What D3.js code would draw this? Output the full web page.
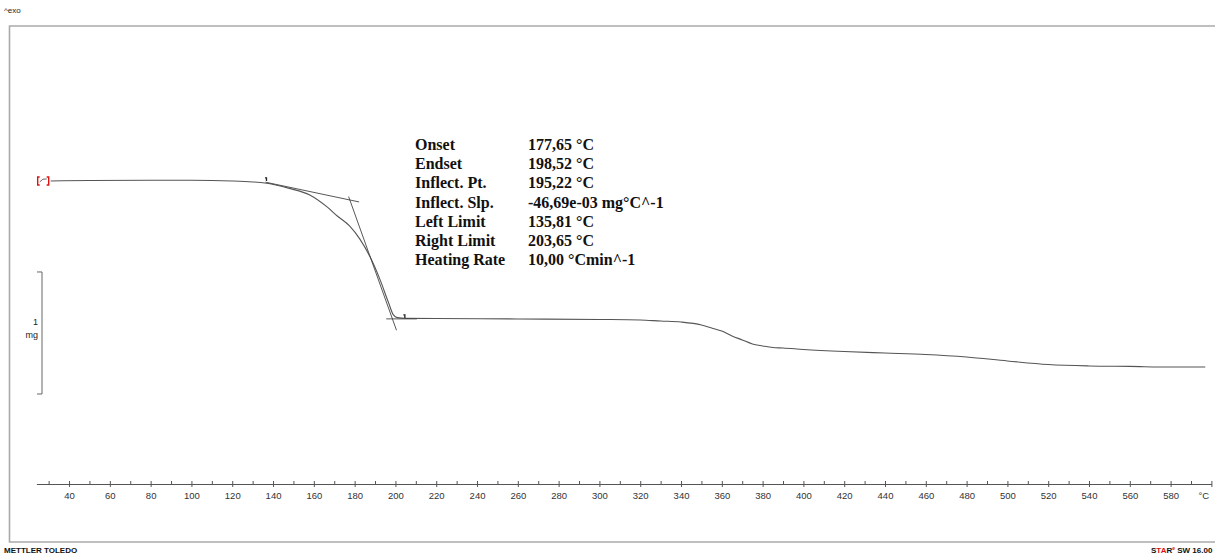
<!DOCTYPE html>
<html>
<head>
<meta charset="utf-8">
<script src="https://cdn.jsdelivr.net/npm/d3@7"></script>
<style>
  body { margin: 0; background: #fff; }
  svg { display: block; }
</style>
</head>
<body>
<svg id="chart"></svg>
<script>
// TGA curve, temperature in °C, mass in mg
var temps = [31, 50, 80, 100, 120, 130, 136, 148, 158, 166.5, 171.5, 177.5, 182.5, 187.5, 192.5, 196.5, 199, 201, 205, 220, 260, 300, 320, 330, 340, 350, 355, 360, 365, 370, 375, 380, 385, 390, 400, 420, 440, 460, 480, 500, 520, 540, 560, 580, 597];
var mass = [3.500, 3.504, 3.506, 3.506, 3.500, 3.492, 3.483, 3.439, 3.385, 3.287, 3.213, 3.131, 3.025, 2.880, 2.689, 2.508, 2.402, 2.380, 2.374, 2.373, 2.369, 2.365, 2.361, 2.352, 2.344, 2.320, 2.295, 2.270, 2.230, 2.197, 2.164, 2.148, 2.135, 2.131, 2.119, 2.102, 2.090, 2.078, 2.057, 2.025, 1.996, 1.984, 1.980, 1.975, 1.975];

var tickLabels = [40, 60, 80, 100, 120, 140, 160, 180, 200, 220, 240, 260, 280, 300, 320, 340, 360, 380, 400, 420, 440, 460, 480, 500, 520, 540, 560, 580, 600];
var minorTicks = d3.range(30, 610, 10);

// evaluation results
var resultNames = ["Onset", "Endset", "Inflect. Pt.", "Inflect. Slp.", "Left Limit", "Right Limit", "Heating Rate"];
var resultValues = ["177,65 °C", "198,52 °C", "195,22 °C", "-46,69e-03 mg°C^-1", "135,81 °C", "203,65 °C", "10,00 °Cmin^-1"];

var onsetT = 177.65, endsetT = 198.52, leftLimit = 135.81, rightLimit = 203.65;
var inflSlope = -46.69e-3;
var onsetMass = 3.344;
var preSlope = -0.00353; // baseline tangent before step, mg/°C
var scaleBarLow = 1.754; // 1 mg scale bar

var w = 1215, h = 556;
var svg = d3.select("#chart").attr("width", w).attr("height", h);

var x = d3.scaleLinear().domain([24, 600]).range([36.4, 1211.4]);
var y = d3.scaleLinear().domain([0.541, 4.770]).range([542, 26]);

// frame
svg.append("text").attr("x", 4).attr("y", 13)
  .attr("font-family", "Liberation Sans, Arial").attr("font-size", 8).attr("fill", "#222")
  .text("^exo");
svg.append("path")
  .attr("d", "M1216,26 H9.5 V542 H1216")
  .attr("fill", "none").attr("stroke", "#aaa").attr("stroke-width", 1.6);

svg.append("text").attr("x", 4).attr("y", 553)
  .attr("font-family", "Liberation Sans, Arial").attr("font-size", 8).attr("font-weight", "bold").attr("fill", "#111")
  .text("METTLER TOLEDO");

var star = svg.append("text").attr("x", 1151).attr("y", 553)
  .attr("font-family", "Liberation Sans, Arial").attr("font-size", 8).attr("font-weight", "bold").attr("fill", "#111");
star.append("tspan").text("S");
star.append("tspan").attr("fill", "#d11").text("TA");
star.append("tspan").text("R");
star.append("tspan").attr("fill", "#d11").attr("font-size", 5).attr("dy", -3).text("e");
star.append("tspan").attr("dy", 3).text(" SW 16.00");

// x axis
var axisY = 484;
var gMinor = svg.append("g").attr("transform", "translate(0," + axisY + ")")
  .call(d3.axisBottom(x).tickValues(minorTicks).tickSize(-3).tickSizeOuter(0).tickFormat(""));
var gAxis = svg.append("g").attr("transform", "translate(0," + axisY + ")")
  .call(d3.axisBottom(x).tickValues(tickLabels).tickSize(3).tickSizeOuter(0)
    .tickFormat(function(d) { return d == 600 ? "°C" : d; }));
gAxis.selectAll("text")
  .attr("font-family", "Liberation Sans, Arial").attr("font-size", 9.5).attr("fill", "#333").attr("dy", "0.95em");
gAxis.selectAll(".tick").filter(function(d) { return d == 600; }).select("text").attr("x", -8);
svg.selectAll(".domain").attr("stroke", "#555");
svg.selectAll(".tick line").attr("stroke", "#555");
gMinor.select(".domain").remove();

// 1 mg scale bar
var sb = svg.append("g").attr("stroke", "#666").attr("fill", "none");
sb.append("path")
  .attr("d", "M37," + y(scaleBarLow + 1) + " H42 V" + y(scaleBarLow) + " H37");
svg.append("text").attr("x", 38).attr("y", 325).attr("text-anchor", "end")
  .attr("font-family", "Liberation Sans, Arial").attr("font-size", 9).attr("fill", "#222").text("1");
svg.append("text").attr("x", 38).attr("y", 338).attr("text-anchor", "end")
  .attr("font-family", "Liberation Sans, Arial").attr("font-size", 9).attr("fill", "#222").text("mg");

// curve
var data = temps.map(function(t, i) { return [t, mass[i]]; });
var line = d3.line()
  .x(function(d) { return x(d[0]); })
  .y(function(d) { return y(d[1]); })
  .curve(d3.curveMonotoneX);
svg.append("path").datum(data)
  .attr("d", line)
  .attr("fill", "none").attr("stroke", "#555").attr("stroke-width", 1.1);

// start marker
var sx = x(temps[0]), sy = y(mass[0]);
svg.append("path")
  .attr("d", "M" + (sx - 11) + "," + (sy - 4) + " h-2 v8 h2 M" + (sx - 4) + "," + (sy - 4) + " h2 v8 h-2")
  .attr("fill", "none").attr("stroke", "#e01010").attr("stroke-width", 1.4);
svg.append("path")
  .attr("d", "M" + (sx - 11) + "," + (sy + 1) + " q3,-4 7,-3")
  .attr("fill", "none").attr("stroke", "#666").attr("stroke-width", 1);

// tangents
var endsetMass = onsetMass + inflSlope * (endsetT - onsetT);
var tangents = [
  [[leftLimit + 0.5, onsetMass + preSlope * (leftLimit + 0.5 - onsetT)], [182.2, onsetMass + preSlope * (182.2 - onsetT)]],
  [[onsetT - 0.6, onsetMass + inflSlope * (-0.6)], [endsetT + 2.0, onsetMass + inflSlope * (endsetT + 2.0 - onsetT)]],
  [[endsetT - 3, endsetMass], [endsetT + 12, endsetMass]]
];
svg.append("g").selectAll("path").data(tangents).enter().append("path")
  .attr("d", d3.line().x(function(d) { return x(d[0]); }).y(function(d) { return y(d[1]); }))
  .attr("fill", "none").attr("stroke", "#444").attr("stroke-width", 0.9);

// limit markers
[[leftLimit, onsetMass + preSlope * (leftLimit - onsetT)], [rightLimit, endsetMass]].forEach(function(p) {
  var px = x(p[0]) + 2, py = y(p[1]);
  svg.append("path").attr("d", "M" + (px - 1.5) + "," + (py - 4) + " l1.5,0 l0,3")
    .attr("fill", "none").attr("stroke", "#222").attr("stroke-width", 1.3);
});

// results table
var tbl = svg.append("g")
  .attr("font-family", "Liberation Serif, Times New Roman, serif").attr("font-size", 16)
  .attr("font-weight", "bold").attr("fill", "#111");
tbl.selectAll(".nm").data(resultNames).enter().append("text")
  .attr("x", 415).attr("y", function(d, i) { return 150 + i * 19.2; }).text(function(d) { return d; });
tbl.selectAll(".vl").data(resultValues).enter().append("text")
  .attr("x", 528).attr("y", function(d, i) { return 150 + i * 19.2; }).text(function(d) { return d; });
</script>
</body>
</html>
